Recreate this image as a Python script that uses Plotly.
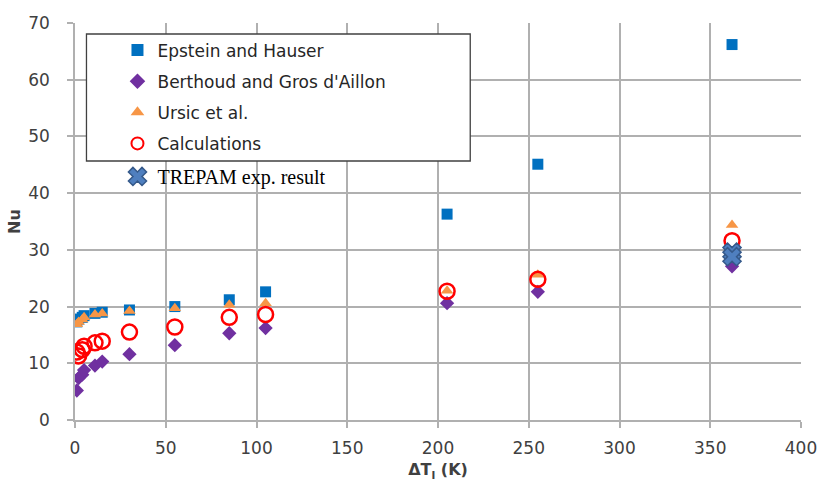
import plotly.graph_objects as go

# ---- data ----
dT = [1, 2, 4, 5, 11, 15, 30, 55, 85, 105, 205, 255, 362]
epstein = [17.3, 17.8, 18.1, 18.4, 18.8, 19.0, 19.4, 20.0, 21.2, 22.6, 36.3, 45.1, 66.2]
berthoud = [5.2, 7.4, 8.0, 8.8, 9.6, 10.3, 11.6, 13.2, 15.3, 16.2, 20.6, 22.6, 27.1]
ursic = [16.9, 17.3, 17.7, 18.1, 18.6, 18.8, 19.2, 19.7, 20.3, 20.6, 22.8, 25.6, 34.4]
calc = [12.0, 11.3, 12.4, 13.0, 13.6, 13.9, 15.5, 16.4, 18.1, 18.6, 22.7, 24.8, 31.6]
trepam_x = [362, 362]
trepam_y = [29.6, 28.8]

x_ticks = [0, 50, 100, 150, 200, 250, 300, 350, 400]
y_ticks = [0, 10, 20, 30, 40, 50, 60, 70]

fig = go.Figure()
fig.add_trace(go.Scatter(x=dT, y=epstein, mode="markers", name="Epstein and Hauser",
                         legendgroup="a",
                         marker=dict(symbol="square", size=11, color="#0070C0")))
fig.add_trace(go.Scatter(x=dT, y=berthoud, mode="markers", name="Berthoud and Gros d'Aillon",
                         legendgroup="b",
                         marker=dict(symbol="diamond", size=11, color="#7030A0")))
fig.add_trace(go.Scatter(x=dT, y=ursic, mode="markers", name="Ursic et al.",
                         legendgroup="c",
                         marker=dict(symbol="triangle-up", size=11, color="#F79646")))
fig.add_trace(go.Scatter(x=dT, y=calc, mode="markers", name="Calculations",
                         legendgroup="d",
                         marker=dict(symbol="circle-open", size=15, color="#FF0000",
                                     line=dict(width=2.5, color="#FF0000"))))
fig.add_trace(go.Scatter(x=trepam_x, y=trepam_y, mode="markers", name="TREPAM exp. result",
                         legend="legend2",
                         marker=dict(symbol="x", size=16, color="#4F7FBF",
                                     line=dict(width=1.5, color="#35598A"))))

grid = "#b0b0b0"
axis_font = dict(family="DejaVu Sans", size=17, color="#404040")

fig.update_layout(
    width=822, height=484,
    margin=dict(l=74.5, r=21, t=23, b=64),
    paper_bgcolor="white", plot_bgcolor="white",
    showlegend=True,
    xaxis=dict(range=[0, 400], tickvals=x_ticks, showgrid=True, gridcolor=grid, gridwidth=1.5,
               showline=True, linecolor=grid, linewidth=1.5, ticks="outside", ticklen=6,
               tickcolor=grid, tickwidth=1.5, tickfont=axis_font, zeroline=False,
               ticklabelstandoff=6, automargin=False,
               title=dict(text="<b>ΔT<sub>l</sub> (K)</b>",
                          font=dict(family="DejaVu Sans", size=16, color="#404040"),
                          standoff=7)),
    yaxis=dict(range=[0, 70], tickvals=y_ticks, showgrid=True, gridcolor=grid, gridwidth=1.5,
               showline=True, linecolor=grid, linewidth=1.5, ticks="outside", ticklen=6,
               tickcolor=grid, tickwidth=1.5, tickfont=axis_font, zeroline=False,
               ticklabelstandoff=14, automargin=False,
               title=dict(text="<b>Nu</b>",
                          font=dict(family="DejaVu Sans", size=16, color="#404040"),
                          standoff=4)),
    legend=dict(x=0.0585, y=0.976, xanchor="left", yanchor="top",
                bgcolor="rgba(0,0,0,0)", borderwidth=0,
                traceorder="grouped", tracegroupgap=6,
                font=dict(family="DejaVu Sans", size=17, color="#262626"),
                itemsizing="constant"),
    legend2=dict(x=0.0585, y=0.6625, xanchor="left", yanchor="top",
                 bgcolor="rgba(0,0,0,0)", borderwidth=0,
                 font=dict(family="Liberation Serif", size=20, color="#000000")),
    shapes=[dict(type="rect", xref="paper", yref="paper",
                 x0=0.0158, x1=0.5444, y0=0.6524, y1=0.9723,
                 line=dict(color="#404040", width=1.3), fillcolor="white", layer="above")],
)

fig.write_html("out.html")
